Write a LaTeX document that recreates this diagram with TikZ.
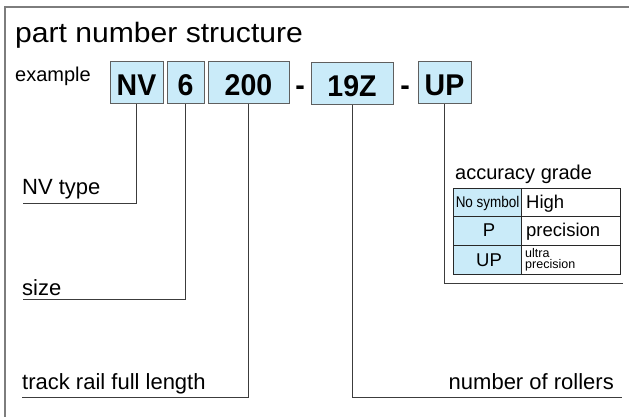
\documentclass[tikz,border=0pt]{standalone}
\usepackage{fontspec}
\setmainfont{Liberation Sans}
\newfontfamily\condfont[FakeStretch=0.87]{Liberation Sans}
\newfontfamily\boxfont[FakeStretch=0.95]{Liberation Sans}
\newfontfamily\titlefont[FakeStretch=1.075]{Liberation Sans}
\definecolor{boxblue}{RGB}{202,235,249}
\definecolor{boxline}{RGB}{95,95,95}
\definecolor{connline}{RGB}{60,60,60}
\definecolor{frameline}{RGB}{125,125,125}
\definecolor{tabline}{RGB}{40,40,40}
\tikzset{
  pbox/.style={draw=boxline, fill=boxblue, line width=1pt, inner sep=0pt,
    minimum height=42pt, font=\boxfont\fontsize{30}{31}\selectfont\bfseries,
    text height=26pt, text depth=0pt},
  dashtxt/.style={inner sep=0pt, font=\boxfont\fontsize{30}{31}\selectfont\bfseries,
    text height=26pt, text depth=0pt},
  conn/.style={draw=connline, line width=0.9pt},
  lab/.style={inner sep=0pt, font=\fontsize{22}{24}\selectfont},
  cell/.style={draw=tabline, line width=0.8pt, inner sep=0pt},
  tabtxt/.style={inner sep=0pt, font=\fontsize{18.5}{20}\selectfont},
  smalltxt/.style={inner sep=0pt, font=\fontsize{12.5}{13}\selectfont},
}
\begin{document}
\begin{tikzpicture}[x=1pt,y=-1pt]
\useasboundingbox (0,0) rectangle (629,417);
% frame
\draw[draw=frameline, line width=1.4pt] (629,7) -- (5,7) -- (5,417);
% title
\node[inner sep=0pt, anchor=base west, font=\titlefont\fontsize{28}{30}\selectfont] (title) at (15,43) {part number structure};
\node[inner sep=0pt, anchor=base west, font=\fontsize{20}{22}\selectfont] (ex) at (15,82) {example};
% part number boxes
\node[pbox, minimum width=53pt] (nv) at (136.5,83) {NV};
\node[pbox, minimum width=37pt] (six) at (185.5,83) {6};
\node[pbox, minimum width=81pt] (len) at (248.5,83) {200};
\node[dashtxt] (d1) at (300,83) {-};
\node[pbox, minimum width=82pt] (rol) at (352,83.5) {19Z};
\node[dashtxt] (d2) at (405,83) {-};
\node[pbox, minimum width=53pt] (acc) at (444.5,83) {UP};
% connector ends
\coordinate (e1) at (23,203);
\coordinate (e2) at (23,299);
\coordinate (e3) at (22,397);
\coordinate (e4) at (622,397);
\coordinate (e5) at (623,283);
\draw[conn] (nv.south) |- (e1);
\draw[conn] (six.south) |- (e2);
\draw[conn] (len.south) |- (e3);
\draw[conn] (rol.south) |- (e4);
\draw[conn] (acc.south) |- (e5);
% labels
\node[lab, anchor=base west] (l1) at (22,194) {NV type};
\node[lab, anchor=base west] (l2) at (22,295) {size};
\node[lab, anchor=base west] (l3) at (22,389) {track rail full length};
\node[lab, anchor=base east] (l4) at (614,389) {number of rollers};
% accuracy table
\node[inner sep=0pt, anchor=base west, font=\fontsize{20}{22}\selectfont] (accttl) at (455,179) {accuracy grade};
\node[cell, fill=boxblue, minimum width=68.2pt, minimum height=28pt] (c11) at (487.6,202) {};
\node[cell, minimum width=99pt, minimum height=28pt] (c12) at (571.2,202) {};
\node[cell, fill=boxblue, minimum width=68.2pt, minimum height=29pt] (c21) at (487.6,230.5) {};
\node[cell, minimum width=99pt, minimum height=29pt] (c22) at (571.2,230.5) {};
\node[cell, fill=boxblue, minimum width=68.2pt, minimum height=29pt] (c31) at (487.6,259.5) {};
\node[cell, minimum width=99pt, minimum height=29pt] (c32) at (571.2,259.5) {};
\node[inner sep=0pt, anchor=base, font=\condfont\fontsize{15.5}{16}\selectfont] (t11) at (487.6,207.5) {No symbol};
\node[tabtxt, anchor=base west] (t12) at (526,208.5) {High};
\node[tabtxt, anchor=base] (t21) at (489,236.5) {P};
\node[tabtxt, anchor=base west] (t22) at (526,236.5) {precision};
\node[tabtxt, anchor=base] (t31) at (489,266) {UP};
\node[smalltxt, anchor=base west] (t32a) at (525,257) {ultra};
\node[smalltxt, anchor=base west] (t32b) at (525,268) {precision};
\end{tikzpicture}
\end{document}
